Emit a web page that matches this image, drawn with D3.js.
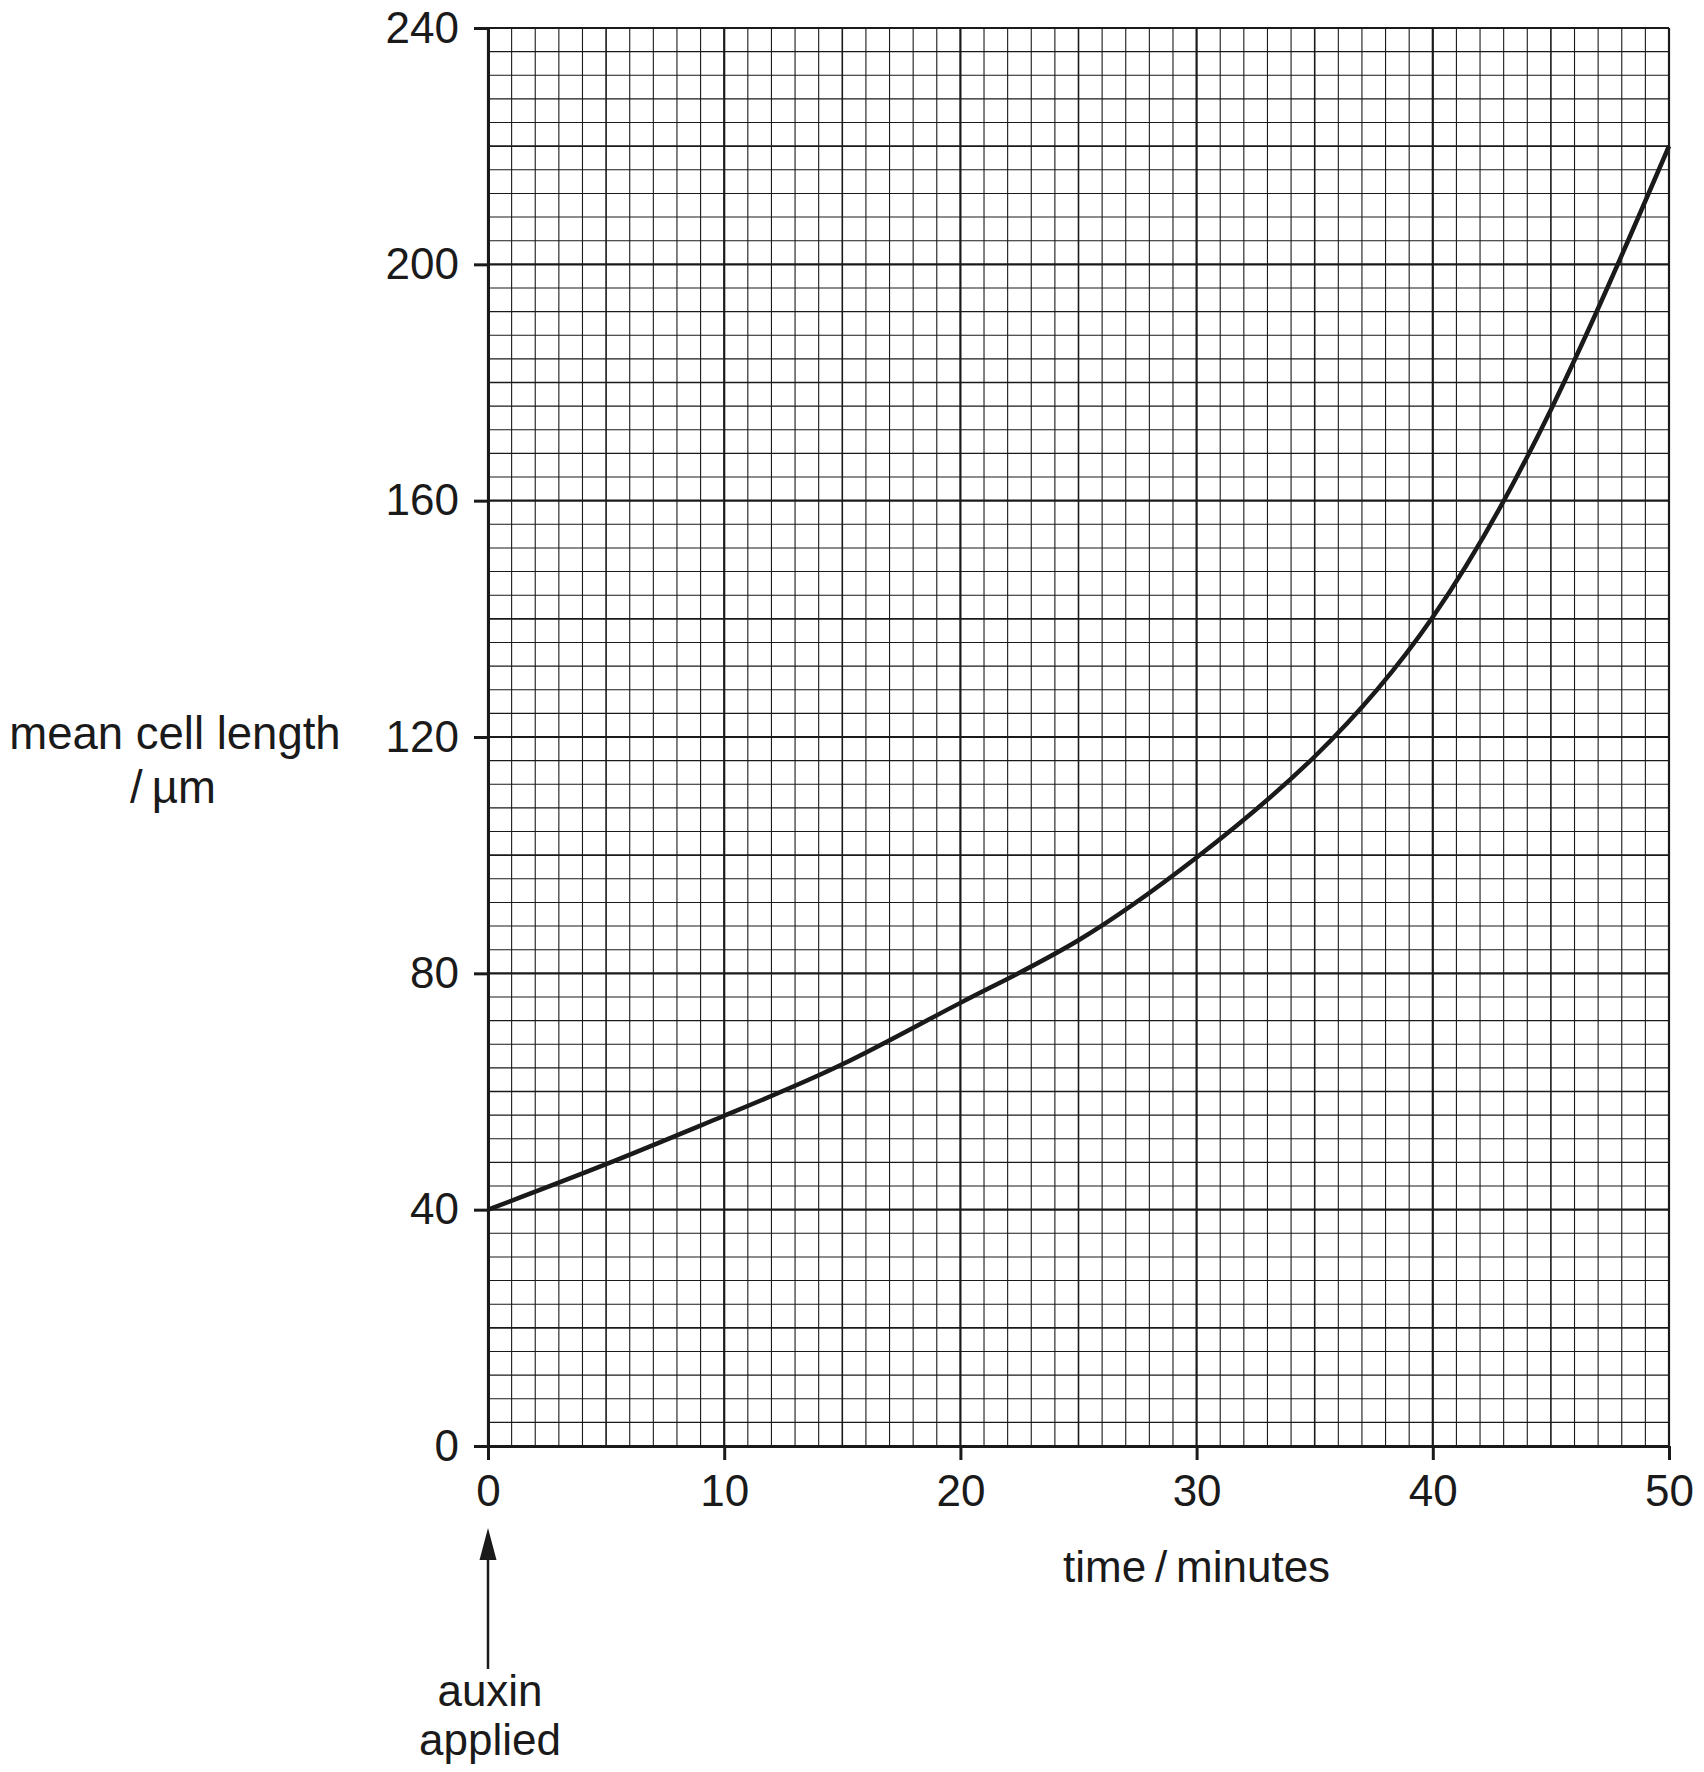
<!DOCTYPE html>
<html>
<head>
<meta charset="utf-8">
<script src="https://cdn.jsdelivr.net/npm/d3@7"></script>
<style>
  body { margin: 0; background: #fff; }
  text { font-family: "Liberation Sans", Arial, Helvetica, sans-serif; fill: #1a1a1a; }
</style>
</head>
<body>
<div id="chart"></div>
<script>
// values
const times   = [0, 5, 10, 15, 20, 25, 30, 35, 40, 45, 50];
const lengths = [40, 47.7, 55.9, 64.6, 75, 85.6, 99.6, 116.7, 140.3, 175.4, 220];

const xTicks = [0, 10, 20, 30, 40, 50];
const yTicks = [0, 40, 80, 120, 160, 200, 240];
const xMinor = d3.range(0, 51, 1);
const yMinor = d3.range(0, 241, 4);

const W = 1704, H = 1772;
const margin = { top: 28, left: 488, right: 35, bottom: 326 };
const ink = "#1a1a1a";

const svg = d3.select("#chart")
  .append("svg")
    .attr("width", W)
    .attr("height", H);

const x = d3.scaleLinear().domain([0, 50]).range([margin.left, W - margin.right]);
const y = d3.scaleLinear().domain([0, 240]).range([H - margin.bottom, margin.top]);

// graph paper
const grid = svg.append("g").attr("stroke", ink).attr("fill", "none");

const xWeight = d => d % 10 === 0 ? 2.2 : d % 5 === 0 ? 1.6 : 1.1;
const yWeight = d => d % 40 === 0 ? 2.2 : d % 20 === 0 ? 1.6 : 1.1;

grid.selectAll(".vx")
  .data(xMinor)
  .join("line")
    .attr("x1", d => x(d)).attr("x2", d => x(d))
    .attr("y1", y(0)).attr("y2", y(240))
    .attr("stroke-width", xWeight);

grid.selectAll(".hy")
  .data(yMinor)
  .join("line")
    .attr("y1", d => y(d)).attr("y2", d => y(d))
    .attr("x1", x(0)).attr("x2", x(50))
    .attr("stroke-width", yWeight);

// axes
const xAxis = svg.append("g")
  .attr("transform", `translate(0,${y(0)})`)
  .call(d3.axisBottom(x).tickValues(xTicks).tickSize(14).tickSizeOuter(0).tickPadding(15).tickFormat(d3.format("d")));

const yAxis = svg.append("g")
  .attr("transform", `translate(${x(0)},0)`)
  .call(d3.axisLeft(y).tickValues(yTicks).tickSize(14).tickSizeOuter(0).tickPadding(15).tickFormat(d3.format("d")));

[xAxis, yAxis].forEach(a => {
  a.select(".domain").attr("stroke", ink).attr("stroke-width", 3);
  a.selectAll(".tick line").attr("stroke", ink).attr("stroke-width", 3);
  a.selectAll(".tick text").attr("fill", ink).style("font-size", "44px")
    .style("font-family", '"Liberation Sans", Arial, sans-serif');
});

// curve
const line = d3.line()
  .x((d, i) => x(times[i]))
  .y(d => y(d))
  .curve(d3.curveNatural);

svg.append("path")
  .datum(lengths)
  .attr("fill", "none")
  .attr("stroke", ink)
  .attr("stroke-width", 4.5)
  .attr("stroke-linejoin", "round")
  .attr("d", line);

// axis titles
const yLabel = svg.append("text")
  .attr("text-anchor", "middle")
  .style("font-size", "45.5px");
yLabel.append("tspan").attr("x", 175).attr("y", 749).text("mean cell length");
yLabel.append("tspan").attr("x", 173).attr("y", 803).text("/\u2009µm");

svg.append("text")
  .attr("x", x(30))
  .attr("y", 1582)
  .attr("text-anchor", "middle")
  .style("font-size", "44px")
  .text("time\u2009/\u2009minutes");

// auxin arrow
const ax = x(0);
svg.append("line")
  .attr("x1", ax).attr("x2", ax)
  .attr("y1", 1556).attr("y2", 1669)
  .attr("stroke", ink)
  .attr("stroke-width", 2.5);

svg.append("path")
  .attr("d", `M${ax},1528 L${ax - 8.5},1560 L${ax + 8.5},1560 Z`)
  .attr("fill", ink);

const aux = svg.append("text")
  .attr("text-anchor", "middle")
  .style("font-size", "44px");
aux.append("tspan").attr("x", ax + 2).attr("y", 1706).text("auxin");
aux.append("tspan").attr("x", ax + 2).attr("y", 1755).text("applied");
</script>
</body>
</html>
